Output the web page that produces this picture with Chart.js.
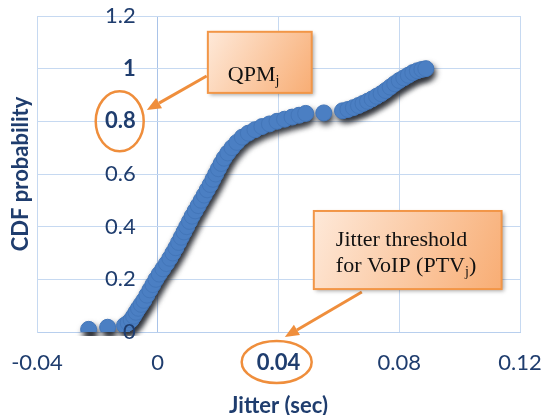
<!DOCTYPE html>
<html>
<head>
<meta charset="utf-8">
<script src="https://cdn.jsdelivr.net/npm/chart.js@4.4.1/dist/chart.umd.min.js"></script>
<style>
  html, body { margin: 0; padding: 0; background: #fff; }
  #wrap { width: 548px; height: 415px; position: relative; }
</style>
</head>
<body>
<div id="wrap"><canvas id="cdfChart"></canvas></div>
<script>
// jitter (sec) of each sample and its CDF probability
const jitterValues = [
  -0.0229, -0.0166,
  -0.0110, -0.0098, -0.0088, -0.0080, -0.0072, -0.0064, -0.0055, -0.0046,
  -0.0036, -0.0026, -0.0016, -0.0006, 0.0005, 0.0017, 0.0029, 0.0040,
  0.0050, 0.0060, 0.0069, 0.0078, 0.0087, 0.0096, 0.0105, 0.0114,
  0.0124, 0.0134, 0.0144, 0.0154, 0.0164, 0.0174, 0.0183, 0.0192,
  0.0201, 0.0210, 0.0220, 0.0232, 0.0246, 0.0262, 0.0280, 0.0300,
  0.0322, 0.0345, 0.0370, 0.0395, 0.0420, 0.0445, 0.0468, 0.0490,
  0.0550,
  0.0612, 0.0630, 0.0648, 0.0665, 0.0680, 0.0695, 0.0710, 0.0725,
  0.0740, 0.0755, 0.0770, 0.0785, 0.0800, 0.0815, 0.0830, 0.0845,
  0.0860, 0.0875, 0.0888
];
const cdfValues = [
  0.010, 0.018,
  0.025, 0.035, 0.046, 0.060, 0.075, 0.090, 0.105, 0.120,
  0.140, 0.160, 0.180, 0.200, 0.220, 0.240, 0.260, 0.280,
  0.300, 0.320, 0.340, 0.360, 0.380, 0.400, 0.420, 0.440,
  0.460, 0.480, 0.500, 0.520, 0.540, 0.560, 0.580, 0.600,
  0.620, 0.640, 0.660, 0.680, 0.700, 0.720, 0.740, 0.755,
  0.768, 0.780, 0.790, 0.800, 0.808, 0.816, 0.823, 0.830,
  0.832,
  0.840, 0.845, 0.852, 0.860, 0.868, 0.876, 0.885, 0.895,
  0.905, 0.917, 0.930, 0.943, 0.955, 0.965, 0.975, 0.985,
  0.992, 0.997, 1.000
];

const xTickValues = [-0.04, 0, 0.04, 0.08, 0.12];
const xTickLabels = ['-0.04', '0', '0.04', '0.08', '0.12'];
const yTickValues = [0, 0.2, 0.4, 0.6, 0.8, 1, 1.2];
const yTickLabels = ['0', '0.2', '0.4', '0.6', '0.8', '1', '1.2'];
const xBoldTicks = [0.04];
const yBoldTicks = [0.8, 1];

const axisText = '#1f3d6e';
const gridBlue = '#c6d9f1';
const tickFont = 'Lato';
const tickSize = 22;
const yLabelGap = 22; // px between y labels and the x = 0 line

const points = jitterValues.map((v, i) => ({ x: v, y: cdfValues[i] }));

const fontFor = bold => ({ family: tickFont, size: tickSize, weight: bold ? 'bold' : 'normal' });

// blurred, offset copy of the dots behind the real ones
const dotShadow = {
  id: 'dotShadow',
  beforeDatasetDraw(chart, args) {
    if (args.index !== 1) return;
    const ctx = chart.ctx;
    ctx.save();
    ctx.translate(2, 4);
    ctx.filter = 'blur(3px)';
  },
  afterDatasetDraw(chart, args) {
    if (args.index !== 1) return;
    chart.ctx.restore();
  }
};

function drawArrow(ctx, x0, y0, x1, y1) {
  const ang = Math.atan2(y1 - y0, x1 - x0);
  const head = 14, half = 6;
  const bx = x1 - head * Math.cos(ang), by = y1 - head * Math.sin(ang);
  ctx.beginPath();
  ctx.moveTo(x0, y0);
  ctx.lineTo(bx, by);
  ctx.stroke();
  ctx.beginPath();
  ctx.moveTo(x1, y1);
  ctx.lineTo(bx + half * Math.sin(ang), by - half * Math.cos(ang));
  ctx.lineTo(bx - half * Math.sin(ang), by + half * Math.cos(ang));
  ctx.closePath();
  ctx.fill();
}

function drawBox(ctx, x0, y0, x1, y1) {
  const g = ctx.createLinearGradient(x0, y0, x1, y1);
  g.addColorStop(0, '#fee9d9');
  g.addColorStop(1, '#f8ad74');
  ctx.save();
  ctx.shadowColor = 'rgba(0,0,0,0.35)';
  ctx.shadowBlur = 4;
  ctx.shadowOffsetX = 2;
  ctx.shadowOffsetY = 2;
  ctx.fillStyle = g;
  ctx.fillRect(x0, y0, x1 - x0, y1 - y0);
  ctx.restore();
  ctx.strokeStyle = '#f29647';
  ctx.lineWidth = 2;
  ctx.strokeRect(x0, y0, x1 - x0, y1 - y0);
}

function subText(ctx, parts, x, y) {
  // parts: [text, isSubscript]
  let cx = x;
  parts.forEach(([t, sub]) => {
    ctx.font = sub ? '14px "Liberation Serif"' : '22px "Liberation Serif"';
    ctx.fillText(t, cx, sub ? y + 4 : y);
    cx += ctx.measureText(t).width;
  });
}

const callouts = {
  id: 'callouts',
  afterDraw(chart) {
    const { ctx } = chart;
    const xs = chart.scales.x, ys = chart.scales.y;
    const px = v => xs.getPixelForValue(v);
    const py = v => ys.getPixelForValue(v);
    ctx.save();
    ctx.strokeStyle = '#ef8e3c';
    ctx.fillStyle = '#ef8e3c';
    ctx.lineWidth = 2.5;
    // rings round the emphasised tick labels
    ctx.beginPath();
    ctx.ellipse(px(-0.0126), py(0.8), 24, 30, 0, 0, Math.PI * 2);
    ctx.stroke();
    ctx.beginPath();
    ctx.ellipse(px(0.0394), py(-0.114), 35, 21, 0, 0, Math.PI * 2);
    ctx.stroke();
    // arrows
    ctx.lineWidth = 3;
    drawArrow(ctx, px(0.0162), py(0.972), px(-0.0036), py(0.843));
    drawArrow(ctx, px(0.0676), py(0.152), px(0.0421), py(-0.019));
    // boxes
    drawBox(ctx, px(0.0166), py(1.14), px(0.0510), py(0.908));
    drawBox(ctx, px(0.0517), py(0.4596), px(0.1139), py(0.163));
    ctx.fillStyle = '#111';
    ctx.textBaseline = 'alphabetic';
    ctx.textAlign = 'left';
    subText(ctx, [['QPM', false], ['j', true]], px(0.0232), py(0.953));
    subText(ctx, [['Jitter threshold', false]], px(0.059), py(0.3266));
    subText(ctx, [['for VoIP (PTV', false], ['j', true], [')', false]], px(0.059), py(0.2279));
    ctx.restore();
  }
};

const chart = new Chart(document.getElementById('cdfChart'), {
  type: 'scatter',
  data: {
    datasets: [
      {
        label: 'CDF',
        data: points,
        backgroundColor: '#4b7fc3',
        borderColor: '#4376b9',
        borderWidth: 1,
        pointRadius: 8,
        pointHoverRadius: 8
      },
      {
        label: 'shadow',
        data: points,
        backgroundColor: '#30333a',
        borderWidth: 0,
        pointRadius: 8,
        pointHoverRadius: 8
      }
    ]
  },
  options: {
    responsive: true,
    maintainAspectRatio: false,
    animation: false,
    devicePixelRatio: 1,
    layout: { padding: { top: 16, right: 28, left: 0, bottom: 0 } },
    plugins: { legend: { display: false }, tooltip: { enabled: false } },
    scales: {
      x: {
        type: 'linear',
        position: 'bottom',
        min: -0.04,
        max: 0.12,
        afterBuildTicks: s => { s.ticks = xTickValues.map(v => ({ value: v })); },
        afterFit: s => { s.height = 83; },
        ticks: {
          padding: 0,
          color: axisText,
          callback: (v, i) => xTickLabels[i],
          font: c => fontFor(c.tick && xBoldTicks.includes(c.tick.value))
        },
        grid: {
          drawTicks: true,
          tickLength: 18,
          tickColor: 'rgba(0,0,0,0)',
          lineWidth: 1,
          color: c => (c.tick && c.tick.value === 0 ? '#a9c3e8' : gridBlue)
        },
        border: { color: '#b8cfee', width: 1 },
        title: {
          display: true,
          text: 'Jitter (sec)',
          color: axisText,
          padding: { top: 0, bottom: 1 },
          font: { family: tickFont, size: 22, weight: 'bold', lineHeight: 0.75 }
        }
      },
      y: {
        type: 'linear',
        position: 'left',
        min: 0,
        max: 1.2,
        afterBuildTicks: s => { s.ticks = yTickValues.map(v => ({ value: v })); },
        afterFit: s => {
          s.width = 37;
          s.paddingTop = 0;
          s.paddingBottom = 0;
        },
        // mirrored labels are pushed right so they sit just left of x = 0, above the dots
        ticks: {
          mirror: true,
          crossAlign: 'far',
          padding: 0,
          z: 1,
          color: axisText,
          callback: (v, i) => yTickLabels[i],
          font: c => fontFor(c.tick && yBoldTicks.includes(c.tick.value))
        },
        grid: { drawTicks: false, color: gridBlue, lineWidth: 1 },
        border: { color: gridBlue, width: 1 },
        title: {
          display: true,
          text: 'CDF probability',
          color: axisText,
          padding: { top: 10, bottom: 0 },
          font: { family: tickFont, size: 22, weight: 'bold', lineHeight: 1 }
        }
      }
    }
  },
  plugins: [dotShadow, callouts]
});

// move the y labels so their right edge lands yLabelGap px left of the x = 0 line
(function placeYLabels() {
  const ctx = chart.ctx;
  let widest = 0;
  yTickValues.forEach((v, i) => {
    const f = fontFor(yBoldTicks.includes(v));
    ctx.font = `${f.weight} ${f.size}px ${f.family}`;
    widest = Math.max(widest, ctx.measureText(yTickLabels[i]).width);
  });
  const target = chart.scales.x.getPixelForValue(0) - yLabelGap;
  chart.options.scales.y.ticks.padding = target - chart.scales.y.right - widest;
  chart.update('none');
})();
</script>
</body>
</html>
